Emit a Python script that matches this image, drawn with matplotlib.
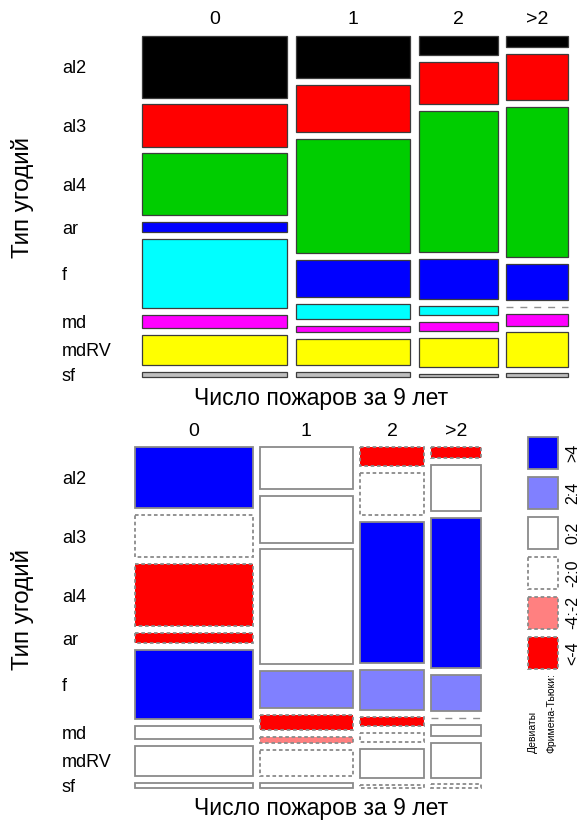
import numpy as np
import matplotlib.pyplot as plt
from matplotlib.patches import Rectangle
from matplotlib.transforms import blended_transform_factory as blend

plt.rcParams['font.family'] = ['Liberation Sans', 'DejaVu Sans']

# data (estimated counts)
fires = ['0', '1', '2', '>2']
land = ['al2', 'al3', 'al4', 'ar', 'f', 'md', 'mdRV', 'sf']
counts_0 = [76, 52, 76, 13, 85, 16, 37, 7]
counts_1 = [41, 46, 112, 36, 15, 6, 26, 5]
counts_2 = [13, 28, 95, 27, 6, 6, 20, 2]
counts_3 = [6, 24, 79, 19, 0, 6, 18, 2]

# Freeman-Tukey deviate class of each cell (bottom plot)
ft_0 = ['>4', '-2:0', '<-4', '<-4', '>4', '0:2', '0:2', '0:2']
ft_1 = ['0:2', '0:2', '0:2', '2:4', '<-4', '-4:-2', '-2:0', '0:2']
ft_2 = ['<-4', '-2:0', '>4', '2:4', '<-4', '-2:0', '0:2', '-2:0']
ft_3 = ['<-4', '0:2', '>4', '2:4', '0:2', '0:2', '0:2', '-2:0']

land_colors = ['black', '#FF0000', '#00CD00', '#0000FF', '#00FFFF', '#FF00FF', '#FFFF00', '#BEBEBE']
legend_classes = ['>4', '2:4', '0:2', '-2:0', '-4:-2', '<-4']
class_fill = {'>4': '#0000FF', '2:4': '#8080FF', '0:2': 'white',
              '-2:0': 'white', '-4:-2': '#FF8080', '<-4': '#FF0000'}
dash = (0, (2, 1.5))
class_ls = {'>4': '-', '2:4': '-', '0:2': '-', '-2:0': dash, '-4:-2': dash, '<-4': dash}

counts = np.array([counts_0, counts_1, counts_2, counts_3], dtype=float)
ft = [ft_0, ft_1, ft_2, ft_3]

W, H = 581, 823
fig = plt.figure(figsize=(W / 100, H / 100), dpi=100)


def px_axes(left, top, right, bottom):
    return fig.add_axes([left / W, 1 - bottom / H, (right - left) / W, (bottom - top) / H])


def mosaic(counts, gap=0.02):
    ncol, nrow = counts.shape
    col_tot = counts.sum(axis=1)
    aw = 1 - gap * (ncol - 1)
    ah = 1 - gap * (nrow - 1)
    cells = []
    x = 0
    for j in range(ncol):
        w = aw * col_tot[j] / col_tot.sum()
        y = 0
        for i in range(nrow):
            h = ah * counts[j, i] / col_tot[j]
            cells.append((j, i, x, y, w, h))
            y += h + gap
        x += w + gap
    return cells


def draw(ax, style, label_y):
    ax.set_xlim(0, 1)
    ax.set_ylim(1, 0)
    ax.axis('off')
    cells = mosaic(counts)
    for j, i, x, y, w, h in cells:
        if h == 0:
            ax.plot([x, x + w], [y, y], color='#909090', lw=1, ls=(0, (5, 5)), clip_on=False)
            continue
        if style == 'top':
            ax.add_patch(Rectangle((x, y), w, h, facecolor=land_colors[i],
                                   edgecolor='#3c3c3c', lw=0.9, clip_on=False))
        else:
            c = ft[j][i]
            ax.add_patch(Rectangle((x, y), w, h, facecolor=class_fill[c],
                                   edgecolor='#8a8a8a', lw=1.3, ls=class_ls[c], clip_on=False))
    # column labels
    tr = blend(ax.transData, fig.transFigure)
    for j, lab in enumerate(fires):
        x, w = [(c[2], c[4]) for c in cells if c[0] == j][0]
        ax.text(x + w / 2, 1 - label_y / H, lab, transform=tr, fontsize=14,
                ha='center', va='center')
    # row labels at first column
    tr2 = blend(fig.transFigure, ax.transData)
    for j, i, x, y, w, h in cells:
        if j == 0:
            ax.text(62 / W, y + h / 2, land[i], transform=tr2, fontsize=13,
                    ha='left', va='center_baseline')


ax1 = px_axes(142.3, 36, 567.7, 377.3)
draw(ax1, 'top', 19)
fig.text(321 / W, 1 - 399 / H, 'Число пожаров за 9 лет', fontsize=16.5, ha='center', va='center')
fig.text(22 / W, 1 - 198 / H, 'Тип угодий', fontsize=17.5, rotation=90, ha='center', va='center')

ax2 = px_axes(135, 446.7, 481, 788.3)
draw(ax2, 'bottom', 431)
fig.text(321 / W, 1 - 809 / H, 'Число пожаров за 9 лет', fontsize=16.5, ha='center', va='center')
fig.text(22 / W, 1 - 609 / H, 'Тип угодий', fontsize=17.5, rotation=90, ha='center', va='center')

# legend
step = 39.9
lax = px_axes(527, 437.3, 559, 437.3 + step * len(legend_classes))
lax.set_xlim(0, 1)
lax.set_ylim(len(legend_classes), 0)
lax.axis('off')
box_h = 32 / step
for k, c in enumerate(legend_classes):
    lax.add_patch(Rectangle((0.02, k), 0.96, box_h, facecolor=class_fill[c],
                            edgecolor='#8a8a8a', lw=1.3, ls=class_ls[c], clip_on=False))
    lax.text(572.5 / W, k + box_h / 2, c, transform=blend(fig.transFigure, lax.transData),
             fontsize=11.5, rotation=90, ha='center', va='center')
fig.text(533 / W, 1 - 753 / H, 'Девиаты', fontsize=7.5, rotation=90, ha='center', va='bottom')
fig.text(551 / W, 1 - 753 / H, 'Фримена-Тьюки:', fontsize=7.5, rotation=90, ha='center', va='bottom')

fig.savefig('out.png', dpi=100)
